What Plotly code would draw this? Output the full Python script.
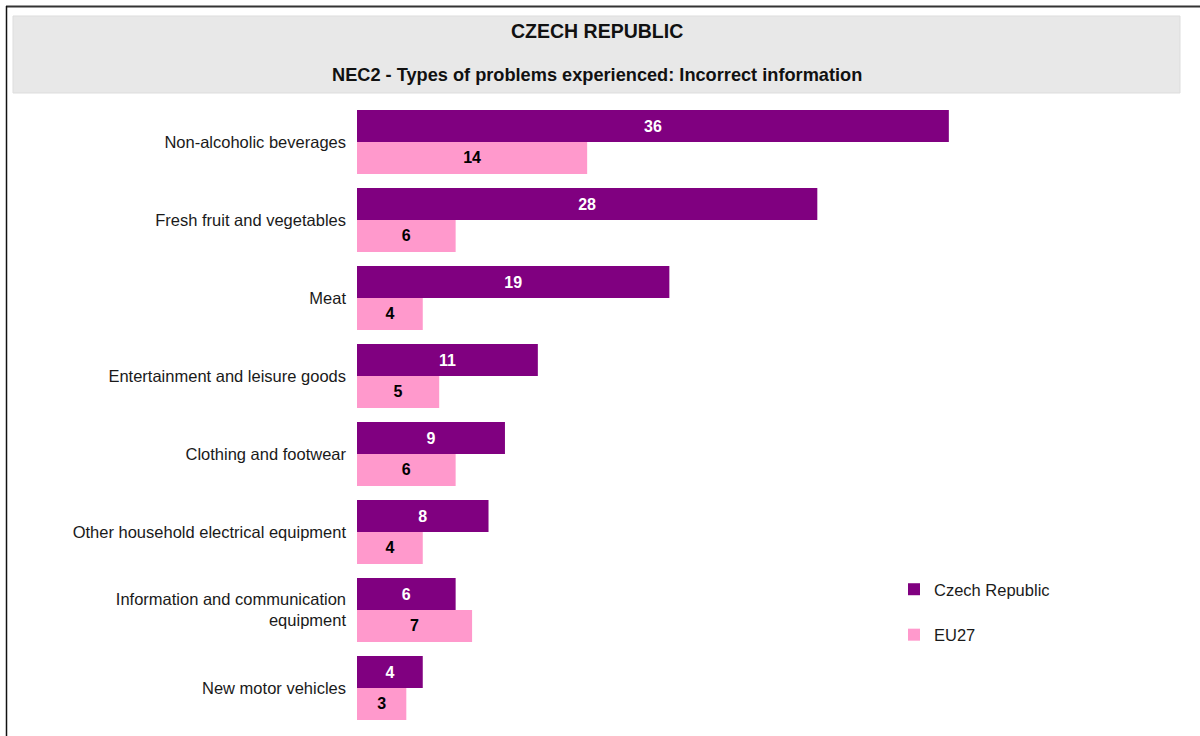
import plotly.graph_objects as go

categories = [
    "Non-alcoholic beverages",
    "Fresh fruit and vegetables",
    "Meat",
    "Entertainment and leisure goods",
    "Clothing and footwear",
    "Other household electrical equipment",
    "Information and communication<br>equipment",
    "New motor vehicles",
]
czech = [36, 28, 19, 11, 9, 8, 6, 4]
eu27 = [14, 6, 4, 5, 6, 4, 7, 3]

series_names = ["Czech Republic", "EU27"]
colors = ["#800080", "#FF99CC"]
text_colors = ["white", "black"]

title_main = "CZECH REPUBLIC"
title_sub = "NEC2 - Types of problems experienced: Incorrect information"

W, H = 1200, 736
L, R, T, B = 357, 21, 103, 9
pw, ph = W - L - R, H - T - B


def px_x(x):
    return (x - L) / pw


def px_y(y):
    return (H - B - y) / ph


FONT = "Liberation Sans, Arial"

fig = go.Figure()
for i, (name, vals) in enumerate(zip(series_names, [czech, eu27])):
    fig.add_trace(go.Bar(
        y=categories, x=vals, name=name, orientation="h",
        marker=dict(color=colors[i], line=dict(width=0)),
        text=vals, texttemplate="<b>%{x}</b>", textposition="inside",
        insidetextanchor="middle",
        textfont=dict(color=text_colors[i], size=16, family=FONT),
        legendgroup=name, hoverinfo="skip",
    ))

fig.update_layout(
    width=W, height=H,
    margin=dict(l=L, r=R, t=T, b=B, autoexpand=False),
    paper_bgcolor="white", plot_bgcolor="white",
    barmode="group", bargap=0.18, bargroupgap=0,
    font=dict(family=FONT, size=16.5, color="#1a1a1a"),
    xaxis=dict(range=[0, 50], visible=False, fixedrange=True),
    yaxis=dict(autorange="reversed", showgrid=False, zeroline=False, showline=False,
               ticks="", ticklabelstandoff=10, fixedrange=True,
               tickfont=dict(size=16.5, color="#1a1a1a")),
    showlegend=True,
    legend=dict(x=px_x(894), y=px_y(572), xanchor="left", yanchor="top",
                traceorder="grouped", tracegroupgap=21,
                font=dict(size=16.5, color="#1a1a1a"), itemwidth=30,
                bgcolor="rgba(0,0,0,0)"),
    shapes=[
        dict(type="rect", xref="paper", yref="paper",
             x0=px_x(13), x1=px_x(1180), y0=px_y(93), y1=px_y(16),
             fillcolor="#E8E8E8", line=dict(color="#DDDDDD", width=1), layer="below"),
        dict(type="line", xref="paper", yref="paper",
             x0=px_x(6), x1=px_x(1200), y0=px_y(6.5), y1=px_y(6.5),
             line=dict(color="#333333", width=2)),
        dict(type="line", xref="paper", yref="paper",
             x0=px_x(6.5), x1=px_x(6.5), y0=px_y(6), y1=px_y(736),
             line=dict(color="#111111", width=1.5)),
    ],
    annotations=[
        dict(text=f"<b>{title_main}</b>", xref="paper", yref="paper",
             x=px_x(597), y=px_y(31), xanchor="center", yanchor="middle",
             showarrow=False, font=dict(size=19.5, color="#111111")),
        dict(text=f"<b>{title_sub}</b>", xref="paper", yref="paper",
             x=px_x(597), y=px_y(75), xanchor="center", yanchor="middle",
             showarrow=False, font=dict(size=18.2, color="#111111")),
    ],
)

fig.write_html("out.html", config={"displayModeBar": False},
               post_script="document.body.style.margin='0px';")
